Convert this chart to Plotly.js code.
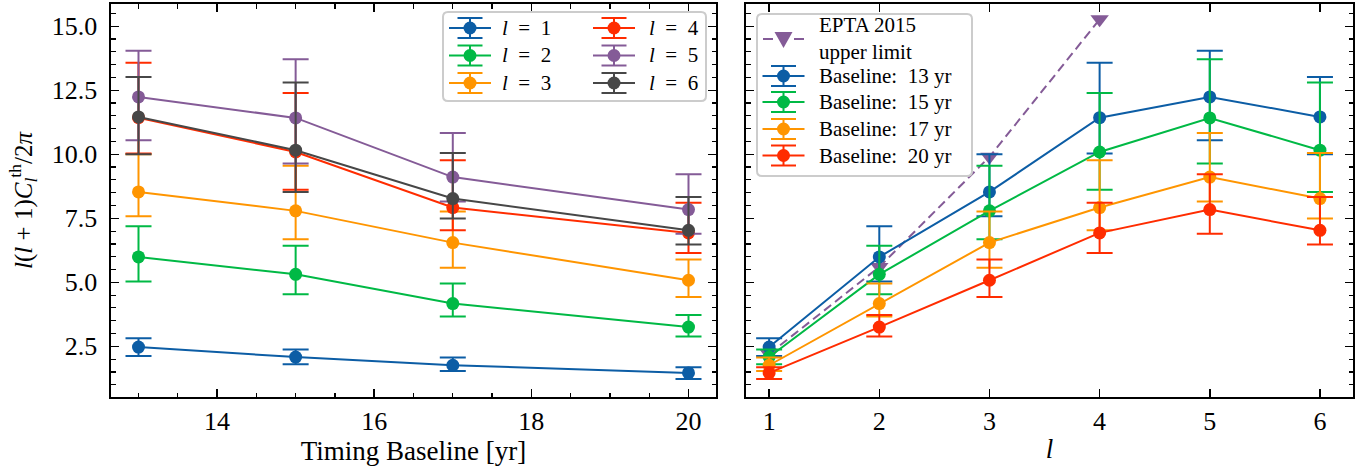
<!DOCTYPE html>
<html>
<head>
<meta charset="utf-8">
<script src="https://cdn.plot.ly/plotly-3.0.1.min.js"></script>
<style>html,body{margin:0;padding:0;background:#fff;}#chart{width:1369px;height:472px;}</style>
</head>
<body>
<div id="chart"></div>
<script>
// ---------- data ----------
const baselines = [13, 15, 17, 20];           // timing baseline [yr]
const ells = [1, 2, 3, 4, 5, 6];              // multipole l

// central values per l, across baselines 13, 15, 17, 20 yr
const val_l1 = [2.47, 2.08, 1.76, 1.46];
const val_l2 = [5.99, 5.31, 4.17, 3.25];
const val_l3 = [8.53, 7.79, 6.55, 5.08];
const val_l4 = [11.43, 10.09, 7.92, 6.93];
const val_l5 = [12.24, 11.42, 9.11, 7.84];
const val_l6 = [11.46, 10.16, 8.27, 7.03];

// upper ends of the error bars
const up_l1 = [2.81, 2.38, 2.06, 1.68];
const up_l2 = [7.19, 6.43, 4.95, 3.72];
const up_l3 = [10.00, 9.55, 7.77, 5.89];
const up_l4 = [13.58, 12.39, 9.77, 8.11];
const up_l5 = [14.04, 13.71, 10.83, 9.22];
const up_l6 = [13.02, 12.80, 10.05, 8.33];

// lower ends of the error bars
const lo_l1 = [2.12, 1.80, 1.54, 1.22];
const lo_l2 = [5.03, 4.53, 3.66, 2.88];
const lo_l3 = [7.58, 6.68, 5.57, 4.43];
const lo_l4 = [10.03, 8.61, 7.03, 6.14];
const lo_l5 = [10.55, 9.64, 8.16, 6.90];
const lo_l6 = [10.00, 8.53, 7.49, 6.48];

// EPTA 2015 upper limit at l = 1..4
const epta_l = [1, 2, 3, 4];
const epta_val = [2.2, 5.6, 9.9, 15.27];

const lLabels = ['<i>l</i>\u00a0\u00a0=\u00a0\u00a01', '<i>l</i>\u00a0\u00a0=\u00a0\u00a02', '<i>l</i>\u00a0\u00a0=\u00a0\u00a03',
                 '<i>l</i>\u00a0\u00a0=\u00a0\u00a04', '<i>l</i>\u00a0\u00a0=\u00a0\u00a05', '<i>l</i>\u00a0\u00a0=\u00a0\u00a06'];
const baselineLabels = ['Baseline:\u00a0 13 yr', 'Baseline:\u00a0 15 yr', 'Baseline:\u00a0 17 yr', 'Baseline:\u00a0 20 yr'];
const eptaLabel = ['EPTA 2015', 'upper limit'];

// ---------- styling ----------
const colorsL = ['#0C5DA5', '#00B945', '#FF9500', '#FF2C00', '#845B97', '#474747'];
const colorsB = ['#0C5DA5', '#00B945', '#FF9500', '#FF2C00'];
const eptaColor = '#845B97';
const FONT = '"Liberation Serif", "Times New Roman", serif';

const vals = [val_l1, val_l2, val_l3, val_l4, val_l5, val_l6];
const ups  = [up_l1, up_l2, up_l3, up_l4, up_l5, up_l6];
const los  = [lo_l1, lo_l2, lo_l3, lo_l4, lo_l5, lo_l6];

function errObj(c, plus, minus, color) {
  return {type: 'data', symmetric: false,
          array: plus.map((u, i) => u - c[i]),
          arrayminus: minus.map((d, i) => c[i] - d),
          color: color, thickness: 2, width: 13, visible: true};
}

const traces = [];
for (let k = 0; k < 6; k++) {
  traces.push({
    x: baselines, y: vals[k], type: 'scatter', mode: 'lines+markers',
    name: lLabels[k], xaxis: 'x', yaxis: 'y', showlegend: false,
    line: {color: colorsL[k], width: 2},
    marker: {color: colorsL[k], size: 13, symbol: 'circle'},
    error_y: errObj(vals[k], ups[k], los[k], colorsL[k]),
    cliponaxis: false
  });
}
traces.push({
  x: epta_l, y: epta_val, type: 'scatter', mode: 'lines+markers',
  name: eptaLabel.join(' '), xaxis: 'x2', yaxis: 'y2', showlegend: false,
  line: {color: eptaColor, width: 2, dash: '9px,5px'},
  marker: {color: eptaColor, size: 16, symbol: 'triangle-down'},
  cliponaxis: false
});
for (let b = 0; b < baselines.length; b++) {
  const c = vals.map(v => v[b]);
  const u = ups.map(v => v[b]);
  const d = los.map(v => v[b]);
  traces.push({
    x: ells, y: c, type: 'scatter', mode: 'lines+markers',
    name: baselineLabels[b], xaxis: 'x2', yaxis: 'y2', showlegend: false,
    line: {color: colorsB[b], width: 2},
    marker: {color: colorsB[b], size: 13, symbol: 'circle'},
    error_y: errObj(c, u, d, colorsB[b]),
    cliponaxis: false
  });
}

// ---------- layout ----------
const ML = 111, MR = 16, MT = 4, MB = 75, W = 1369, H = 472;
const PW = W - ML - MR, PH = H - MT - MB;
const P = p => (p - ML) / PW;          // pixel x -> paper x
const Q = p => (H - MB - p) / PH;      // pixel y -> paper y

const tickFont = {family: FONT, size: 26, color: '#000'};
const axisCommon = {
  ticks: 'inside', ticklen: 8, tickwidth: 1.5, tickcolor: '#000',
  showline: true, linecolor: '#000', linewidth: 1.6, mirror: 'allticks',
  showgrid: false, zeroline: false, tickfont: tickFont
};
const minorCommon = {ticks: 'inside', ticklen: 4.5, tickwidth: 1.2, tickcolor: '#000', showgrid: false};

// ---------- hand-built legends (matplotlib-style error-bar icons) ----------
const shapes = [];
const annotations = [];
function roundRect(x0, y0, x1, y1, r) {
  const f = (x, y) => P(x) + ',' + Q(y);
  return 'M' + f(x0 + r, y0) + ' L' + f(x1 - r, y0) + ' Q' + f(x1, y0) + ' ' + f(x1, y0 + r) +
         ' L' + f(x1, y1 - r) + ' Q' + f(x1, y1) + ' ' + f(x1 - r, y1) +
         ' L' + f(x0 + r, y1) + ' Q' + f(x0, y1) + ' ' + f(x0, y1 - r) +
         ' L' + f(x0, y0 + r) + ' Q' + f(x0, y0) + ' ' + f(x0 + r, y0) + ' Z';
}
function box(x0, y0, x1, y1) {
  shapes.push({type: 'path', xref: 'paper', yref: 'paper', layer: 'above',
               path: roundRect(x0, y0, x1, y1, 5),
               line: {color: '#cccccc', width: 2}, fillcolor: 'rgba(255,255,255,0.85)'});
}
function seg(x0, y0, x1, y1, color) {
  shapes.push({type: 'line', xref: 'paper', yref: 'paper', layer: 'above',
               x0: P(x0), y0: Q(y0), x1: P(x1), y1: Q(y1), line: {color: color, width: 2}});
}
function errIcon(cx, cy, color) {
  seg(cx - 21, cy, cx + 21, cy, color);
  seg(cx, cy - 10, cx, cy + 10, color);
  seg(cx - 12.5, cy - 10, cx + 12.5, cy - 10, color);
  seg(cx - 12.5, cy + 10, cx + 12.5, cy + 10, color);
  shapes.push({type: 'circle', xref: 'paper', yref: 'paper', layer: 'above',
               x0: P(cx - 6.5), x1: P(cx + 6.5), y0: Q(cy + 6.5), y1: Q(cy - 6.5),
               fillcolor: color, line: {color: color, width: 0}});
}
function label(text, x, y, align) {
  annotations.push({xref: 'paper', yref: 'paper', x: P(x), y: Q(y), xanchor: 'left', yanchor: 'middle',
                    align: align || 'left',
                    text: text, showarrow: false, font: {family: FONT, size: 21, color: '#000'}});
}

// left legend: two columns
box(443, 12, 706, 101);
const leftCols = [{icon: 470, text: 500}, {icon: 614, text: 647}];
const leftRows = [28, 55.5, 83];
for (let k = 0; k < 6; k++) {
  const col = leftCols[Math.floor(k / 3)], row = leftRows[k % 3];
  errIcon(col.icon, row, colorsL[k]);
  label(lLabels[k], col.text, row);
}

// right legend
box(757, 14, 972, 176);
seg(763, 39, 773, 39, eptaColor);
seg(794, 39, 804, 39, eptaColor);
shapes.push({type: 'path', xref: 'paper', yref: 'paper', layer: 'above',
             path: 'M' + P(774.5) + ',' + Q(32) + ' L' + P(792.5) + ',' + Q(32) + ' L' + P(783.5) + ',' + Q(48) + ' Z',
             fillcolor: eptaColor, line: {color: eptaColor, width: 0}});
label(eptaLabel.join('<br>'), 817, 39, 'left');
const rightRows = [76, 102, 129, 155.5];
for (let b = 0; b < 4; b++) {
  errIcon(783.5, rightRows[b], colorsB[b]);
  label(baselineLabels[b], 817, rightRows[b]);
}

const layout = {
  width: W, height: H,
  margin: {l: ML, r: MR, t: MT, b: MB, pad: 0},
  paper_bgcolor: '#fff', plot_bgcolor: '#fff',
  font: {family: FONT, color: '#000'},
  showlegend: false,
  xaxis: Object.assign({}, axisCommon, {
    domain: [0, P(716)], anchor: 'y', range: [12.65, 20.35], tick0: 0, dtick: 2,
    ticklabelstandoff: 0,
    minor: Object.assign({}, minorCommon, {dtick: 0.5}),
    title: {text: 'Timing Baseline [yr]', font: {family: FONT, size: 27, color: '#000'}, standoff: 4}
  }),
  yaxis: Object.assign({}, axisCommon, {
    domain: [0, 1], anchor: 'x', range: [0.52, 15.87], tick0: 0, dtick: 2.5, tickformat: '.1f',
    ticklabelstandoff: 7,
    minor: Object.assign({}, minorCommon, {dtick: 0.5}),
    title: {text: '<i>l</i>(<i>l</i> + 1)<i>C</i><sub><i>l</i></sub><sup>th</sup>/2<i>π</i>',
            font: {family: FONT, size: 25, color: '#000'}, standoff: 12}
  }),
  xaxis2: Object.assign({}, axisCommon, {
    domain: [P(746), 1], anchor: 'y2', range: [0.79, 6.3], tick0: 0, dtick: 1,
    ticklabelstandoff: 0,
    title: {text: '<i>l</i>', font: {family: FONT, size: 27, color: '#000'}, standoff: 4}
  }),
  yaxis2: Object.assign({}, axisCommon, {
    domain: [0, 1], anchor: 'x2', matches: 'y', range: [0.52, 15.87], tick0: 0, dtick: 2.5,
    showticklabels: false,
    minor: Object.assign({}, minorCommon, {dtick: 0.5})
  }),
  shapes: shapes,
  annotations: annotations
};

Plotly.newPlot('chart', traces, layout, {staticPlot: true, displayModeBar: false});
</script>
</body>
</html>
